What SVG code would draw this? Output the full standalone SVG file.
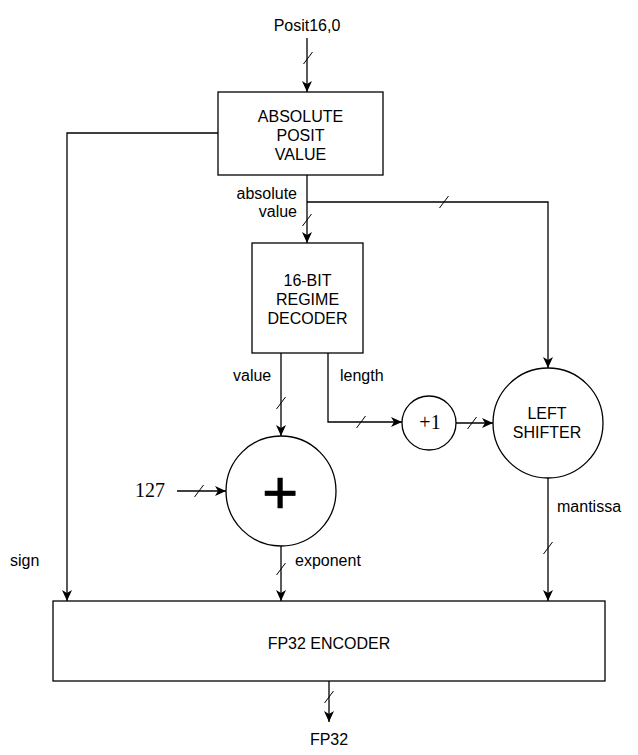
<svg xmlns="http://www.w3.org/2000/svg" width="638" height="755" viewBox="0 0 638 755">
<style>
.box{fill:#fff;stroke:#000;stroke-width:1.3}
.ln{fill:none;stroke:#000;stroke-width:1.3}
.sl{stroke:#000;stroke-width:1}
.t{font-family:"Liberation Sans",Arial,sans-serif;font-size:16px;fill:#000}
.m{text-anchor:middle}
.s{font-family:"Liberation Serif","Times New Roman",serif;font-size:20px;fill:#000}
</style>
<defs>
<marker id="ar" markerUnits="userSpaceOnUse" markerWidth="12" markerHeight="10" refX="11" refY="5" orient="auto">
<path d="M0,0 L11,5 L0,10 L3,5 z" fill="#000"/>
</marker>
</defs>
<rect width="638" height="755" fill="#fff"/>
<g id="connectors">
<path class="ln" d="M307,38 V92" marker-end="url(#ar)"/>
<path class="ln" d="M307,175 V243" marker-end="url(#ar)"/>
<path class="ln" d="M307,202 H548 V368" marker-end="url(#ar)"/>
<path class="ln" d="M218,133 H67 V601" marker-end="url(#ar)"/>
<path class="ln" d="M281,353 V436" marker-end="url(#ar)"/>
<path class="ln" d="M328,353 V422 H402" marker-end="url(#ar)"/>
<path class="ln" d="M456,423 H493" marker-end="url(#ar)"/>
<path class="ln" d="M177,491 H226" marker-end="url(#ar)"/>
<path class="ln" d="M281,546 V601" marker-end="url(#ar)"/>
<path class="ln" d="M548,478 V601" marker-end="url(#ar)"/>
<path class="ln" d="M329,681 V722" marker-end="url(#ar)"/>
<g class="sl">
<line x1="303.5" y1="64" x2="312.5" y2="52"/>
<line x1="302.5" y1="226" x2="311.5" y2="214"/>
<line x1="439.5" y1="208" x2="448.5" y2="196"/>
<line x1="276.5" y1="409" x2="285.5" y2="397"/>
<line x1="356.5" y1="428" x2="365.5" y2="416"/>
<line x1="467.5" y1="429" x2="476.5" y2="417"/>
<line x1="194.5" y1="497" x2="203.5" y2="485"/>
<line x1="276.5" y1="575" x2="285.5" y2="563"/>
<line x1="543.5" y1="554" x2="552.5" y2="542"/>
<line x1="324.5" y1="703" x2="333.5" y2="691"/>
</g>
<text class="t m" x="307" y="31">Posit16,0</text>
<text class="t" x="297" y="199" text-anchor="end">absolute</text>
<text class="t" x="297" y="217" text-anchor="end">value</text>
<text class="t" x="233" y="381">value</text>
<text class="t" x="340" y="381">length</text>
<text class="t" x="295" y="566">exponent</text>
<text class="t" x="557" y="512">mantissa</text>
<text class="t" x="10" y="566">sign</text>
<text class="s" x="135" y="497">127</text>
<text class="t m" x="329" y="745">FP32</text>
</g>
<g id="abs">
<rect class="box" x="218" y="92" width="165" height="83"/>
<text class="t m" x="300.5" y="122">ABSOLUTE</text>
<text class="t m" x="300.5" y="141">POSIT</text>
<text class="t m" x="300.5" y="160">VALUE</text>
</g>
<g id="regime">
<rect class="box" x="252" y="243" width="111" height="110"/>
<text class="t m" x="307.5" y="286">16-BIT</text>
<text class="t m" x="307.5" y="305">REGIME</text>
<text class="t m" x="307.5" y="324">DECODER</text>
</g>
<g id="adder">
<circle class="box" cx="281" cy="491" r="55"/>
<text x="280" y="513" text-anchor="middle" font-family="Liberation Sans,Arial,sans-serif" font-size="62" fill="#000" stroke="#000" stroke-width="0.6">+</text>
</g>
<g id="plus1">
<circle class="box" cx="429" cy="423" r="27"/>
<text class="s m" x="430" y="429">+1</text>
</g>
<g id="shifter">
<circle class="box" cx="548" cy="423" r="55"/>
<text class="t m" x="547" y="419">LEFT</text>
<text class="t m" x="547" y="438">SHIFTER</text>
</g>
<g id="encoder">
<rect class="box" x="53" y="601" width="552" height="80"/>
<text class="t m" x="329" y="649">FP32 ENCODER</text>
</g>
</svg>
